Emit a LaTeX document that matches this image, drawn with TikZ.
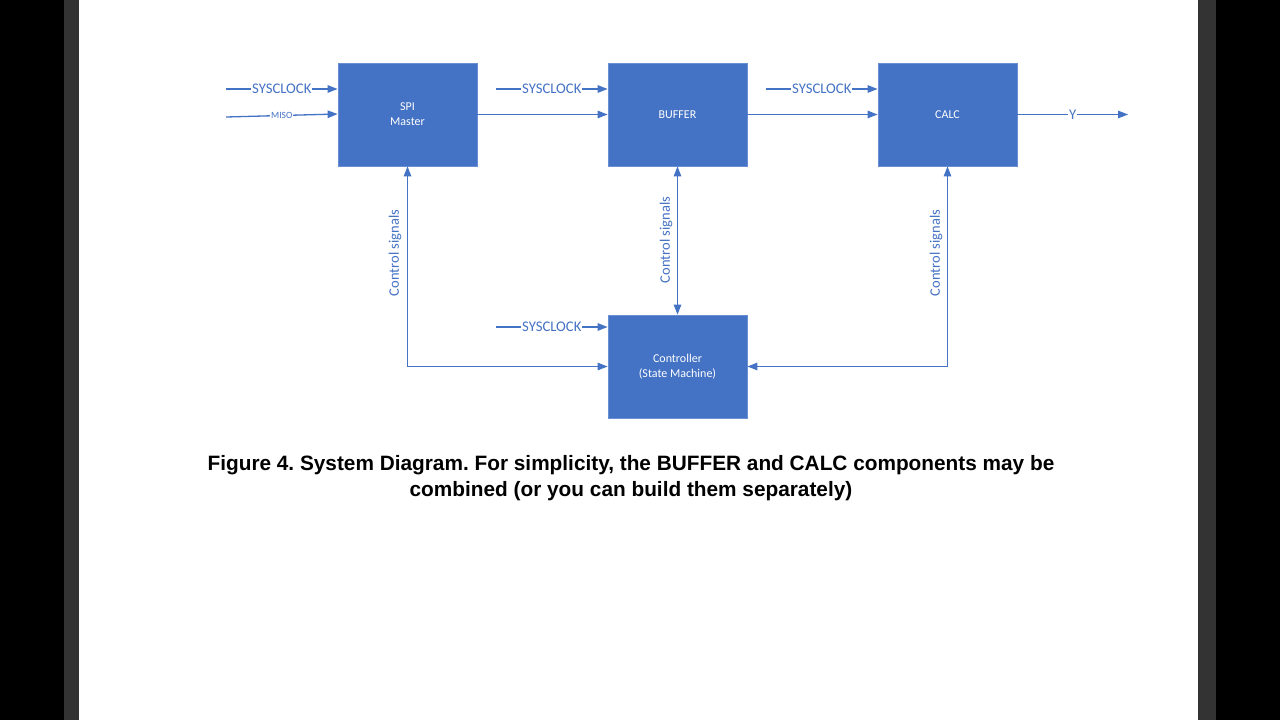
\documentclass[tikz,border=0pt]{standalone}
\usepackage{fontspec}
\setmainfont{Carlito}
\newfontfamily\capfont{Liberation Sans}
\usetikzlibrary{arrows.meta}
\definecolor{boxblue}{HTML}{4472C4}
\definecolor{boxedge}{HTML}{6A8ED2}
\definecolor{pagegrey}{HTML}{333333}
\tikzset{
  blk/.style={fill=boxblue, draw=boxedge, line width=0.8pt, minimum width=139pt, minimum height=103pt, text=white, font=\fontsize{12}{15}\selectfont, align=center, inner sep=0pt},
  arr/.style={draw=boxblue, line width=1.3pt, -{Triangle[length=10pt,width=7.5pt]}},
  darr/.style={draw=boxblue, line width=1.3pt, {Triangle[length=10pt,width=7.5pt]}-{Triangle[length=10pt,width=7.5pt]}},
  lbl/.style={fill=white, text=boxblue, inner sep=0.8pt, font=\fontsize{14.7}{16}\selectfont},
  tiny/.style={fill=white, text=boxblue, inner sep=0.8pt, font=\fontsize{9.5}{11}\selectfont},
  vlbl/.style={text=boxblue, rotate=90, inner sep=0pt, font=\fontsize{14.5}{16}\selectfont},
}
\begin{document}
\begin{tikzpicture}[x=1pt,y=-1pt]
\useasboundingbox (0,0) rectangle (1280,720);
\fill[black] (0,0) rectangle (1280,720);
\fill[pagegrey] (64,0) rectangle (78.5,720);
\fill[pagegrey] (1198,0) rectangle (1215.5,720);
\fill[white] (79,0) rectangle (1198,720);

\node[blk] (spi) at (407.5,114.5) {SPI\\Master};
\node[blk] (buf) at (677.5,114.5) {BUFFER};
\node[blk] (calc) at (947.5,114.5) {CALC};
\node[blk] (ctl) at (677.5,366.5) {Controller\\(State Machine)};

\coordinate (c1) at (226,89);
\coordinate (m1) at (226,117);
\coordinate (c2) at (496,89);
\coordinate (c3) at (766,89);
\coordinate (c4) at (496,327);
\coordinate (yout) at (1128,114.5);

\draw[arr] (c1) -- node[lbl] (l1) {SYSCLOCK} (spi.west |- c1);
\draw[arr] (m1) -- node[tiny] (lm) {MISO} ([yshift=0.5pt]spi.west);
\draw[arr] (c2) -- node[lbl] (l2) {SYSCLOCK} (buf.west |- c2);
\draw[arr] (c3) -- node[lbl] (l3) {SYSCLOCK} (calc.west |- c3);
\draw[arr] (c4) -- node[lbl] (l4) {SYSCLOCK} (ctl.west |- c4);

\draw[arr] (spi.east) -- (buf.west);
\draw[arr] (buf.east) -- (calc.west);
\draw[arr] (calc.east) -- node[lbl] (ly) {Y} (yout);

\draw[darr] (spi.south) |- (ctl.west);
\draw[darr] (buf.south) -- (ctl.north);
\draw[darr] (calc.south) |- (ctl.east);

\node[vlbl] (v1) at (395,253) {Control signals};
\node[vlbl] (v2) at (666,240) {Control signals};
\node[vlbl] (v3) at (936,253) {Control signals};

\node[font=\capfont\bfseries\fontsize{20.8}{26}\selectfont\frenchspacing, align=center] (cap) at (631,478)
  {Figure 4. System Diagram. For simplicity, the BUFFER and CALC components may be\\combined (or you can build them separately)};
\end{tikzpicture}
\end{document}
